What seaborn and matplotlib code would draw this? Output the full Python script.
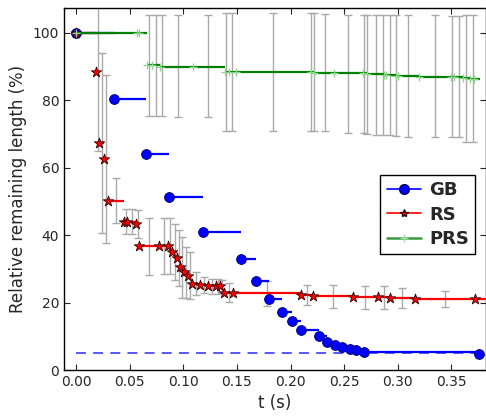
import matplotlib
matplotlib.use("Agg")
import matplotlib.pyplot as plt
import seaborn as sns
import numpy as np
from matplotlib.lines import Line2D
from matplotlib.ticker import FormatStrFormatter

# GB: step values (marker at start of each step)
gb_t = [0.0, 0.0357, 0.0653, 0.0871, 0.1188, 0.1537, 0.1680, 0.1804, 0.1923, 0.2016,
        0.2094, 0.2262, 0.2340, 0.2411, 0.2483, 0.2550, 0.2613, 0.2682, 0.3755]
gb_y = [100, 80.2, 64.1, 51.2, 41.0, 32.8, 26.4, 21.1, 17.3, 14.4,
        11.8, 10.1, 8.3, 7.4, 6.7, 6.1, 5.8, 5.35, 4.85]
target_level = 5

# RS: step values, error bar sits at the middle of each step
rs_t = [0.0, 0.0184, 0.0218, 0.0258, 0.0296, 0.0451, 0.0479, 0.0560, 0.0591, 0.0778,
        0.0856, 0.0899, 0.0940, 0.0974, 0.1011, 0.1045, 0.1083, 0.1157, 0.1226, 0.1307,
        0.1344, 0.1384, 0.1462, 0.2100, 0.2207, 0.2582, 0.2816, 0.2924, 0.3158, 0.3718]
rs_y = [100, 88.4, 67.3, 62.5, 50.2, 44.0, 44.0, 43.3, 36.7, 36.8,
        36.8, 35.1, 33.3, 30.4, 29.0, 27.9, 25.6, 25.2, 24.8, 24.8,
        24.8, 22.9, 22.7, 22.3, 21.8, 21.6, 21.6, 21.3, 21.0, 20.9]
rs_err = [0, 23.4, 26.7, 24.9, 6.7, 3.7, 3.6, 4.1, 8.5, 8.2,
          8.4, 8.3, 8.3, 9.0, 7.6, 7.0, 3.5, 2.4, 2.2, 2.2,
          2.0, 2.8, 3.7, 3.0, 3.4, 3.4, 3.4, 3.0, 2.4, 0]
rs_end = 0.395

# PRS: step values
prs_t = [0.0, 0.0567, 0.0591, 0.0660, 0.0706, 0.0784, 0.1089, 0.1390, 0.1431, 0.1493,
         0.2190, 0.2221, 0.2402, 0.2672, 0.2713, 0.2868, 0.2890, 0.2987, 0.3000, 0.3195,
         0.3497, 0.3528, 0.3609, 0.3677, 0.3715]
prs_y = [100, 100, 100, 90.4, 90.3, 89.8, 89.8, 88.3, 88.3, 88.3,
         88.2, 88.0, 88.0, 87.9, 87.8, 87.5, 87.4, 87.2, 87.2, 86.9,
         86.8, 86.8, 86.5, 86.3, 86.2]
prs_end = 0.3765

# PRS error bars (position, lower bound, upper bound)
prs_bar_t = [0.0681, 0.0744, 0.0800, 0.0955, 0.1235, 0.1394, 0.1459, 0.1836, 0.2191, 0.2221,
             0.2324, 0.2532, 0.2681, 0.2713, 0.2794, 0.2863, 0.2924, 0.2984, 0.3096, 0.3344,
             0.3509, 0.3568, 0.3640, 0.3699]
prs_bar_lo = [75.2, 75.2, 75.2, 75.0, 75.0, 70.7, 70.7, 70.8, 70.8, 70.8,
              70.8, 70.3, 70.3, 70.0, 69.7, 69.7, 69.7, 69.4, 69.1, 69.1,
              69.1, 69.1, 67.7, 67.7]
prs_bar_hi = [105.3, 105.3, 105.3, 105.3, 105.3, 105.9, 105.9, 105.8, 105.8, 105.8,
              105.5, 105.2, 105.2, 105.2, 105.2, 105.2, 105.2, 105.2, 105.2, 105.2,
              105.0, 105.0, 105.2, 105.2]

sns.set_style("ticks")
plt.rcParams['font.family'] = ['DejaVu Sans']
plt.rcParams.update({
    'xtick.direction': 'in', 'ytick.direction': 'in',
    'xtick.top': True, 'ytick.right': True,
    'xtick.major.size': 4, 'ytick.major.size': 4,
    'axes.edgecolor': 'black', 'axes.linewidth': 1.0,
})

fig = plt.figure(figsize=(4.86, 4.16), dpi=100)
ax = fig.add_axes([64 / 486, 46 / 416, 421.5 / 486, 362 / 416])

bar_color = '#aaaaaa'

# RS error bars at the middle of each step
rs_next = rs_t[1:] + [rs_end]
rs_mid = [(a + b) / 2 for a, b in zip(rs_t, rs_next)]
keep = [i for i, e in enumerate(rs_err) if e > 0]
ax.errorbar([rs_mid[i] for i in keep], [rs_y[i] for i in keep], yerr=[rs_err[i] for i in keep],
            fmt='none', ecolor=bar_color, elinewidth=1, capsize=3, capthick=1, zorder=1)

prs_c = [(lo + hi) / 2 for lo, hi in zip(prs_bar_lo, prs_bar_hi)]
prs_e = [(hi - lo) / 2 for lo, hi in zip(prs_bar_lo, prs_bar_hi)]
ax.errorbar(prs_bar_t, prs_c, yerr=prs_e, fmt='none', ecolor=bar_color,
            elinewidth=1, capsize=3, capthick=1, zorder=1)

# target level
ax.plot([gb_t[0], gb_t[-1]], [target_level, target_level], color='#4a4aff',
        lw=1.3, ls=(0, (5.5, 4)), zorder=2)

# GB
ax.hlines(gb_y[:-1], gb_t[:-1], gb_t[1:], color='blue', lw=1.6, zorder=3)
sns.scatterplot(x=gb_t, y=gb_y, ax=ax, marker='o', s=50, color='blue',
                edgecolor='#000066', linewidth=0.6, zorder=4, legend=False)

# RS
ax.hlines(rs_y, rs_t, rs_next, color='red', lw=1.6, zorder=5)
sns.scatterplot(x=rs_t, y=rs_y, ax=ax, marker='*', s=62, color='red',
                edgecolor='#330000', linewidth=0.6, zorder=6, legend=False)

# PRS
ax.hlines(prs_y, prs_t, prs_t[1:] + [prs_end], color='green', lw=1.6, zorder=7)
sns.scatterplot(x=prs_t, y=prs_y, ax=ax, marker='+', s=28, color='#8cd68c',
                linewidth=0.9, zorder=8, legend=False)

ax.set_xlim(-0.0112, 0.3818)
ax.set_ylim(0, 107.3)
ax.set_xticks(np.arange(0, 0.36, 0.05))
ax.set_yticks(np.arange(0, 101, 20))
ax.xaxis.set_major_formatter(FormatStrFormatter('%.2f'))
ax.tick_params(labelsize=10)
ax.set_xlabel('t (s)', fontsize=12)
ax.set_ylabel('Relative remaining length (%)', fontsize=12)

handles = [
    Line2D([], [], color='blue', lw=1.2, marker='o', markersize=7,
           markeredgecolor='#000066', markevery=[0]),
    Line2D([], [], color='red', lw=1.2, marker='*', markersize=6,
           markeredgecolor='#330000', markevery=[0]),
    Line2D([], [], color='#3a9a3a', lw=1.8, marker='+', markersize=6,
           markeredgecolor='#a8dca8', markevery=[0]),
]
leg = ax.legend(handles, ['GB', 'RS', 'PRS'], loc='lower right',
                bbox_to_anchor=(0.976, 0.32), borderaxespad=0, numpoints=1,
                handlelength=1.9, handletextpad=0.45, labelspacing=0.35,
                borderpad=0.35, fancybox=False, framealpha=1, edgecolor='black',
                prop={'weight': 'bold', 'size': 13})
leg.get_frame().set_linewidth(1.0)

fig.savefig('out.png', dpi=100)
